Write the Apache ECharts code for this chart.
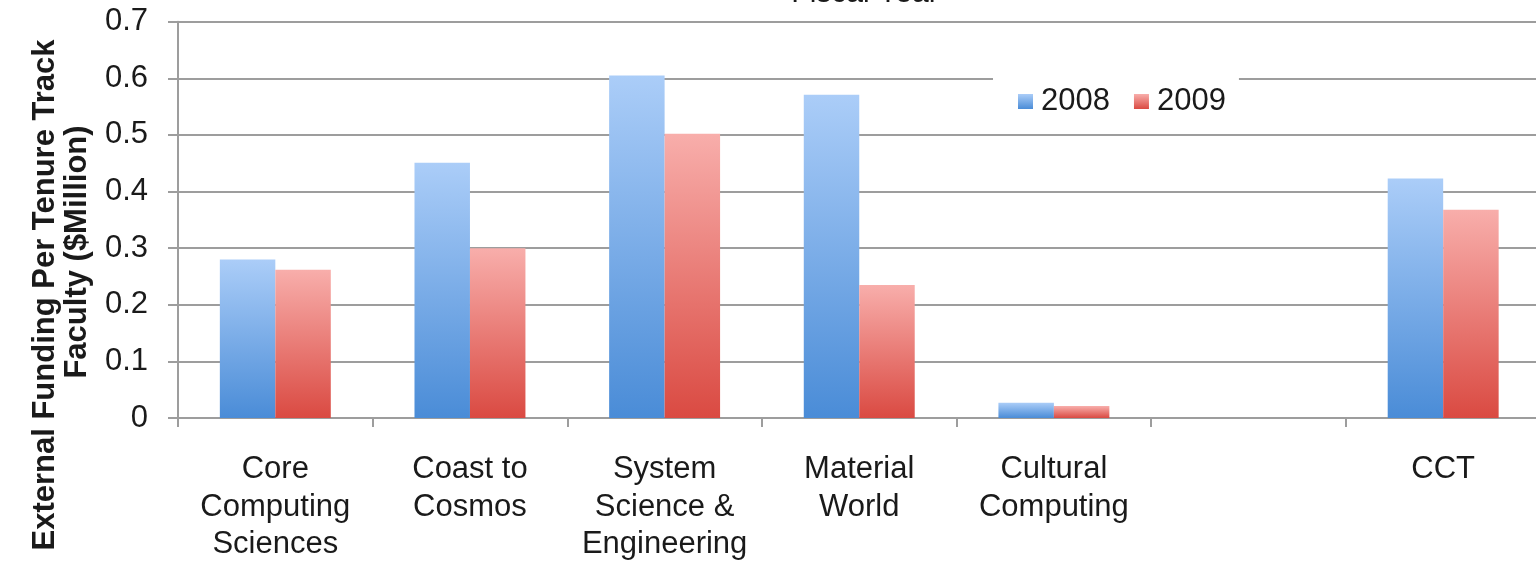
<!DOCTYPE html>
<html>
<head>
<meta charset="utf-8">
<title>External Funding Per Tenure Track Faculty</title>
<script src="https://cdn.jsdelivr.net/npm/echarts@6/dist/echarts.min.js"></script>
<style>
    html, body {margin:0; padding:0; background:#fff;}
    #chart {width:1536px; height:564px;}
</style>
</head>
<body>
<div id="chart"></div>
<script>
// data ------------------
var categories = ['Core\nComputing\nSciences', 'Coast to\nCosmos', 'System\nScience &\nEngineering',
    'Material\nWorld', 'Cultural\nComputing', '', 'CCT'];
var seriesNames = ['2008', '2009'];
var values2008 = [0.280, 0.451, 0.605, 0.571, 0.027, null, 0.423];
var values2009 = [0.262, 0.300, 0.502, 0.235, 0.021, null, 0.368];
var yTicks = [0, 0.1, 0.2, 0.3, 0.4, 0.5, 0.6, 0.7];

var fontName = '"Liberation Sans", Arial, Helvetica, sans-serif';
var gridColor = '#9d9d9d';

function barGradient(top, bottom) {
    return new echarts.graphic.LinearGradient(0, 0, 0, 1, [
        {offset: 0, color: top},
        {offset: 1, color: bottom}
    ]);
}

var myChart = echarts.init(document.getElementById('chart'));

var option = {
    animation: false,
    backgroundColor: '#ffffff',
    textStyle: {fontFamily: fontName},
    // plot runs a little past the right edge of the picture
    grid: {left: 178, width: 1362.5, top: 21.7, height: 396.3,
        containLabel: false, outerBoundsMode: 'none'},
    legend: {
        left: 993,
        top: 72,
        padding: [14, 13, 8, 25],
        backgroundColor: '#ffffff',
        itemWidth: 15,
        itemHeight: 15,
        itemGap: 24,
        icon: 'rect',
        textStyle: {fontSize: 31, color: '#1a1a1a', fontFamily: fontName, padding: [0, 0, 0, 3]},
        data: seriesNames
    },
    graphic: [
        {
            type: 'text', x: 865, y: -6,
            style: {text: 'Fiscal Year', fontSize: 30, fontFamily: fontName, fill: '#1a1a1a',
                align: 'center', verticalAlign: 'middle'}
        },
        {
            type: 'text', x: 45, y: 295, rotation: Math.PI / 2,
            style: {text: 'External Funding Per Tenure Track', fontSize: 31, fontWeight: 'bold',
                fontFamily: fontName, fill: '#1a1a1a', align: 'center', verticalAlign: 'middle'}
        },
        {
            type: 'text', x: 77, y: 252, rotation: Math.PI / 2,
            style: {text: 'Faculty ($Million)', fontSize: 31, fontWeight: 'bold',
                fontFamily: fontName, fill: '#1a1a1a', align: 'center', verticalAlign: 'middle'}
        }
    ],
    xAxis: {
        type: 'category',
        data: categories,
        axisLine: {show: true, lineStyle: {color: gridColor, width: 2}},
        axisTick: {show: true, alignWithLabel: false, length: 9, lineStyle: {color: gridColor, width: 2}},
        axisLabel: {
            interval: 0,
            margin: 33,
            fontSize: 31,
            lineHeight: 37.5,
            color: '#1a1a1a',
            fontFamily: fontName
        },
        splitLine: {show: false}
    },
    yAxis: {
        type: 'value',
        min: yTicks[0],
        max: yTicks[yTicks.length - 1],
        interval: 0.1,
        axisLine: {show: true, lineStyle: {color: gridColor, width: 2}},
        axisTick: {show: true, inside: false, length: 10, lineStyle: {color: gridColor, width: 2}},
        axisLabel: {
            margin: 30,
            fontSize: 31,
            color: '#1a1a1a',
            fontFamily: fontName,
            formatter: function (v) {
                return v === 0 ? '0' : v.toFixed(1);
            }
        },
        splitLine: {show: true, lineStyle: {color: gridColor, width: 2}}
    },
    series: [
        {
            name: seriesNames[0],
            type: 'bar',
            barGap: '0%',
            barCategoryGap: '43%',
            itemStyle: {color: barGradient('#abcdf8', '#4a8cd7')},
            data: values2008
        },
        {
            name: seriesNames[1],
            type: 'bar',
            itemStyle: {color: barGradient('#f8aeab', '#da4a42')},
            data: values2009
        }
    ]
};

myChart.setOption(option);
</script>
</body>
</html>
